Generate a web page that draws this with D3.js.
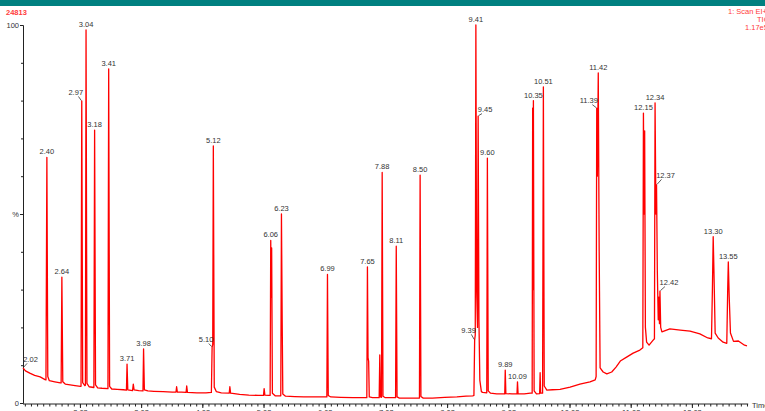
<!DOCTYPE html>
<html>
<head>
<meta charset="utf-8">
<script src="https://cdn.jsdelivr.net/npm/d3@7"></script>
<style>
  html, body { margin: 0; padding: 0; background: #fff; overflow: hidden; }
  svg { display: block; font-family: "Liberation Sans", Arial, sans-serif; }
</style>
</head>
<body>
<svg id="chart" width="765" height="411"></svg>
<script>
/* ================================================
   TIC chromatogram — 24813, 1: Scan EI+
   ================================================ */

// retention time (min), relative intensity (%)
const tic = [
  [2.01, 9.3], [2.05, 8.5], [2.12, 7.9], [2.20, 7.3], [2.29, 6.9], [2.37, 6.2],
  [2.385, 6.1], [2.40, 65.0], [2.415, 7.0], [2.44, 5.9],
  [2.53, 5.6], [2.62, 5.3],
  [2.633, 5.3], [2.645, 33.3], [2.66, 5.6], [2.70, 5.0],
  [2.78, 4.8], [2.86, 4.6], [2.95, 4.4],
  [2.958, 4.4], [2.97, 79.9], [2.985, 5.4], [3.02, 4.6],
  [3.03, 4.7], [3.04, 98.7], [3.055, 5.2], [3.09, 4.3],
  [3.168, 4.1], [3.18, 72.2], [3.195, 4.8], [3.23, 4.0],
  [3.30, 3.9],
  [3.398, 3.8], [3.41, 88.4], [3.425, 4.4], [3.46, 3.7],
  [3.55, 3.6], [3.65, 3.5],
  [3.70, 3.4], [3.71, 10.3], [3.722, 3.5],
  [3.80, 3.3], [3.812, 5.0], [3.825, 3.5], [3.90, 3.3],
  [3.97, 3.2], [3.98, 14.3], [3.993, 3.5],
  [4.05, 3.2], [4.15, 3.1], [4.30, 3.0], [4.45, 2.9],
  [4.51, 2.9], [4.52, 4.3], [4.532, 2.9], [4.60, 2.9],
  [4.675, 2.8], [4.685, 4.5], [4.697, 2.8], [4.85, 2.7], [5.00, 2.7],
  [5.088, 2.8], [5.10, 14.8], [5.11, 15.5], [5.12, 68.0], [5.135, 4.2], [5.17, 3.0], [5.25, 2.7],
  [5.38, 2.6], [5.39, 4.3], [5.402, 2.6], [5.55, 2.3], [5.70, 2.1], [5.85, 2.0],
  [5.94, 2.0], [5.95, 3.8], [5.962, 2.1], [6.02, 2.0],
  [6.048, 2.0], [6.058, 43.0], [6.066, 28.0], [6.073, 41.0], [6.085, 2.6], [6.13, 1.9],
  [6.222, 1.9], [6.233, 50.0], [6.245, 22.0], [6.255, 2.4], [6.30, 1.8],
  [6.45, 1.7], [6.60, 1.6], [6.80, 1.6], [6.975, 1.6],
  [6.985, 34.0], [6.998, 2.0], [7.04, 1.6],
  [7.20, 1.5], [7.40, 1.4], [7.60, 1.4],
  [7.628, 1.4], [7.638, 36.0], [7.648, 12.0], [7.658, 11.0], [7.668, 1.6], [7.72, 1.4],
  [7.83, 1.4], [7.84, 12.7], [7.852, 1.6],
  [7.868, 1.5], [7.879, 61.0], [7.892, 1.8], [7.93, 1.4],
  [8.098, 1.4], [8.109, 41.5], [8.122, 1.6], [8.16, 1.3],
  [8.30, 1.3], [8.45, 1.3],
  [8.488, 1.3], [8.499, 60.3], [8.512, 1.7], [8.55, 1.3],
  [8.70, 1.3], [8.90, 1.5], [9.10, 1.6], [9.25, 1.8], [9.36, 1.9],
  [9.378, 2.0], [9.39, 16.7], [9.40, 18.0], [9.41, 100], [9.422, 30.0], [9.437, 20.0],
  [9.447, 75.9], [9.46, 22.0], [9.475, 6.0], [9.50, 3.0],
  [9.52, 2.8], [9.588, 2.7], [9.598, 64.8], [9.612, 3.2], [9.65, 2.6], [9.75, 2.4], [9.85, 2.4],
  [9.882, 2.4], [9.89, 8.7], [9.90, 2.5], [10.00, 2.4],
  [10.082, 2.4], [10.09, 5.6], [10.10, 2.4], [10.20, 2.4], [10.30, 2.6],
  [10.33, 2.6], [10.338, 78.0], [10.344, 30.0], [10.35, 80.0], [10.362, 3.2], [10.40, 2.4],
  [10.452, 2.5], [10.46, 8.0], [10.468, 2.6],
  [10.50, 2.6], [10.513, 83.6], [10.527, 4.5], [10.57, 3.4], [10.66, 3.5], [10.785, 3.6],
  [10.95, 4.2], [11.11, 5.0], [11.275, 5.6], [11.36, 6.1],
  [11.375, 7.0], [11.385, 78.0], [11.395, 60.0], [11.41, 87.3], [11.425, 40.0], [11.44, 9.3],
  [11.49, 8.2], [11.55, 7.7], [11.63, 8.2], [11.70, 9.5], [11.77, 11.1], [11.88, 12.2],
  [11.98, 13.2], [12.09, 14.0], [12.138, 14.6],
  [12.148, 76.7], [12.158, 50.0], [12.168, 72.0], [12.18, 20.0], [12.20, 16.1], [12.24, 15.3], [12.30, 16.5],
  [12.328, 17.0], [12.338, 79.4], [12.352, 50.0], [12.362, 57.7], [12.375, 35.0], [12.39, 22.0],
  [12.40, 28.0], [12.41, 21.0], [12.418, 29.6], [12.43, 20.0],
  [12.45, 18.8], [12.58, 19.6], [12.75, 19.3], [12.91, 19.0], [13.07, 18.3], [13.20, 17.2], [13.26, 17.0],
  [13.275, 30.0], [13.288, 44.0], [13.30, 35.0], [13.32, 18.5], [13.37, 17.2], [13.45, 16.1], [13.51, 15.8],
  [13.525, 30.0], [13.535, 37.3], [13.55, 28.0], [13.57, 18.5], [13.62, 16.3], [13.70, 16.4],
  [13.80, 15.3], [13.84, 15.1]
];

// peak labels and the apex retention time they sit on
const peakLabels = ['2.02', '2.40', '2.64', '2.97', '3.04', '3.18', '3.41', '3.71', '3.98',
  '5.10', '5.12', '6.06', '6.23', '6.99', '7.65', '7.88', '8.11', '8.50',
  '9.39', '9.41', '9.45', '9.60', '9.89', '10.09', '10.35', '10.51',
  '11.39', '11.42', '12.15', '12.34', '12.37', '12.42', '13.30', '13.55'];
const peakApexRt = [2.01, 2.40, 2.645, 2.97, 3.04, 3.18, 3.41, 3.71, 3.98,
  5.10, 5.12, 6.058, 6.233, 6.985, 7.638, 7.879, 8.109, 8.499,
  9.39, 9.41, 9.447, 9.598, 9.89, 10.09, 10.35, 10.513,
  11.385, 11.41, 12.148, 12.338, 12.362, 12.418, 13.288, 13.535];

// axis ticks
const xTickRt     = [2.94, 3.94, 4.94, 5.94, 6.94, 7.94, 8.94, 9.94, 10.94, 11.94, 12.94];
const xTickLabels = ['2.03', '3.03', '4.03', '5.03', '6.03', '7.03', '8.03', '9.03', '10.03', '11.03', '12.03'];
const yTickValues = [0, 10, 20, 30, 40, 50, 60, 70, 80, 90, 100];
const yTickLabels = { 0: '0', 50: '%', 100: '100' };

// labels drawn off the apex with a short leader: [dx, dy]
const leaderOffsets = {
  '2.02': [7.5, -6], '2.97': [-6, -6], '5.10': [-6, -5], '9.39': [-6, -7],
  '9.45': [7, -4], '11.39': [-8, -5], '12.37': [9, -7], '12.42': [9, -6]
};

const RED  = '#ff0000';
const TEXT = '#333';

const svg = d3.select('#chart');

const x = d3.scaleLinear().domain([2.0, 13.86]).range([22.4, 748.2]);
const y = d3.scaleLinear().domain([0, 100]).range([403, 25]);

// Header band + titles (the right-hand block runs off the page, as in the print)
svg.append('rect').attr('x', 0).attr('y', 0).attr('width', 765).attr('height', 6).attr('fill', '#008080');

svg.append('text').attr('x', 6).attr('y', 15)
  .attr('fill', '#ff3b3b').attr('font-size', 7.5).attr('font-weight', 'bold')
  .text('24813');

const hdr = svg.append('g').attr('fill', '#ff3b3b').attr('font-size', 7.5);
hdr.append('text').attr('x', 728).attr('y', 14).text('1: Scan EI+');
hdr.append('text').attr('x', 757).attr('y', 22).text('TIC');
hdr.append('text').attr('x', 745).attr('y', 30).text('1.17e5');

// ---- Axes ----
const minorRt = d3.range(0, 119).map(i => +(2.04 + i * 0.1).toFixed(2))
  .filter(v => v < 13.86);

svg.append('g').attr('transform', 'translate(0,404)')
  .call(d3.axisBottom(x).tickValues(minorRt).tickSize(2.5).tickFormat(''))
  .call(g => {
    g.select('.domain').remove();
    g.selectAll('line').attr('stroke', '#222');
  });

svg.append('g').attr('transform', 'translate(0,404)')
  .call(d3.axisBottom(x).tickValues(xTickRt).tickSize(4).tickSizeOuter(0).tickPadding(2)
    .tickFormat((d, i) => xTickLabels[i]))
  .call(g => {
    g.select('.domain').attr('stroke', '#222').attr('d', `M${x(2.01)},0H${x(13.86)}`);
    g.selectAll('line').attr('stroke', '#222');
    g.selectAll('text').attr('fill', TEXT).attr('font-size', 7.5).attr('font-family', null);
  });

svg.append('text').attr('x', 752).attr('y', 408)
  .attr('fill', TEXT).attr('font-size', 7.5).text('Time');

svg.append('g').attr('transform', `translate(${x(2.01)},0)`)
  .call(d3.axisLeft(y).tickValues(yTickValues).tickSizeOuter(0).tickPadding(2)
    .tickSize(2).tickFormat(v => yTickLabels[v] || ''))
  .call(g => {
    g.select('.domain').attr('stroke', '#222');
    g.selectAll('line').attr('stroke', '#222')
      .attr('x2', v => (v in yTickLabels) ? -3 : -2);
    g.selectAll('text').attr('fill', TEXT).attr('font-size', 7.5).attr('font-family', null);
  });

// ---- Trace ----
const line = d3.line().x(d => x(d[0])).y(d => y(d[1]));

svg.append('path')
  .datum(tic)
  .attr('d', line)
  .attr('fill', 'none')
  .attr('stroke', RED)
  .attr('stroke-width', 1.3)
  .attr('stroke-linejoin', 'round');

// ---- Peak labels ----
const apexOf = rt => tic.reduce((best, p) =>
  Math.abs(p[0] - rt) < Math.abs(best[0] - rt) ? p : best, tic[0]);

const labelG = svg.append('g').attr('font-size', 7.5).attr('fill', TEXT).attr('text-anchor', 'middle');

peakLabels.forEach((lbl, i) => {
  const p  = apexOf(peakApexRt[i]);
  const ax = x(p[0]);
  const ay = y(p[1]);
  const off = leaderOffsets[lbl];

  if (off) {
    const [dx, dy] = off;
    labelG.append('line')
      .attr('x1', ax + Math.sign(dx) * 0.5).attr('y1', ay - 0.5)
      .attr('x2', ax + dx * 0.55).attr('y2', ay + dy + 1.5)
      .attr('stroke', '#333').attr('stroke-width', 0.8);
    labelG.append('text').attr('x', ax + dx).attr('y', ay + dy).text(lbl);
  } else {
    labelG.append('text').attr('x', ax).attr('y', ay - 3).text(lbl);
  }
});
</script>
</body>
</html>
